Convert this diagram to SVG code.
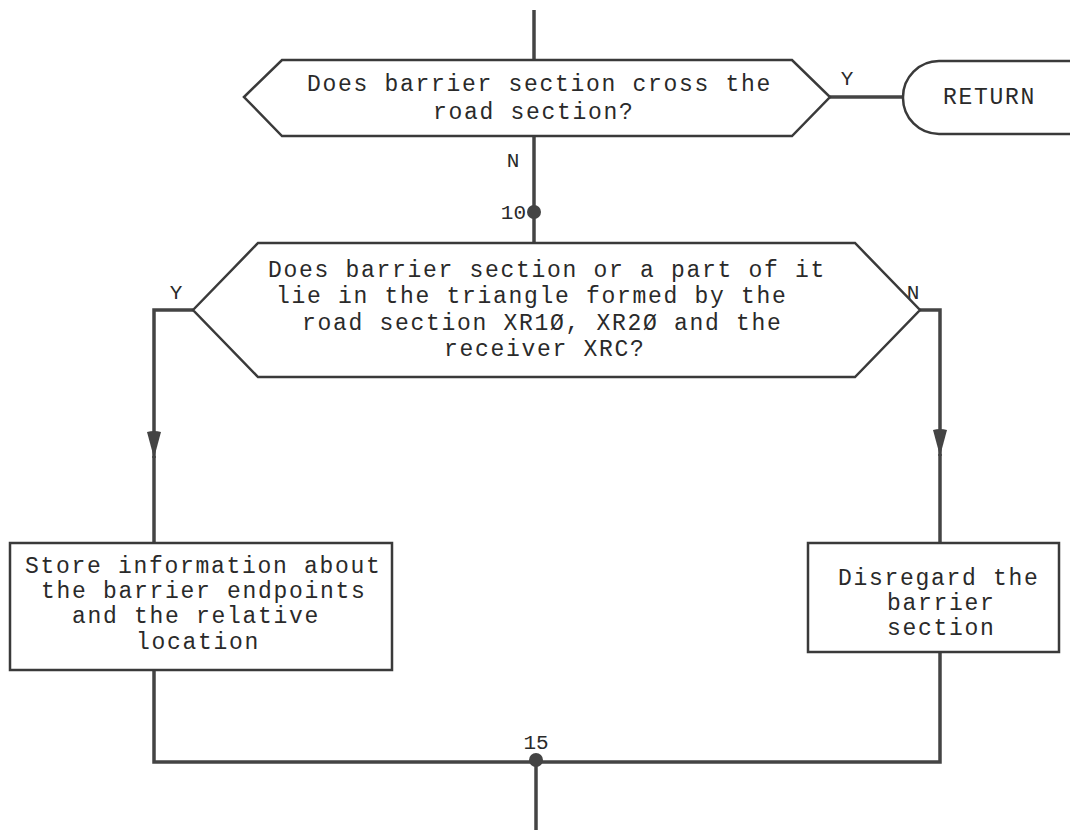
<svg xmlns="http://www.w3.org/2000/svg" width="1070" height="836" viewBox="0 0 1070 836">
<style>
.shape{fill:#fff;stroke:#3a3a3a;stroke-width:2.5}
.t{font-family:"Liberation Mono","Courier New",monospace;font-size:23px;letter-spacing:1.7px;fill:#2a2a2a}
.lbl{font-family:"Liberation Mono","Courier New",monospace;font-size:21px;fill:#2a2a2a}
.c{fill:none;stroke:#444;stroke-width:3.5}
.dot{fill:#444}
</style>
<defs>
<marker id="arr" markerWidth="30" markerHeight="16" refX="28" refY="8" orient="auto" markerUnits="userSpaceOnUse" viewBox="0 0 30 16">
<path d="M2,1 Q0,8 2,15 L28,8 Z" fill="#444"/>
</marker>
</defs>
<rect width="1070" height="836" fill="#fff"/>
<g id="connectors">
<path class="c" d="M534,10 V60"/>
<path class="c" d="M534,136 V243"/>
<path class="c" d="M830,97 H903"/>
<path class="c" d="M193,310 H154 V458" marker-end="url(#arr)"/>
<path class="c" d="M154,456 V543"/>
<path class="c" d="M920,310 H940 V456" marker-end="url(#arr)"/>
<path class="c" d="M940,454 V543"/>
<path class="c" d="M154,670 V762 H940 V652"/>
<path class="c" d="M536,762 V830"/>
<circle class="dot" cx="534" cy="212" r="7"/>
<circle class="dot" cx="536" cy="760" r="7"/>
<text class="lbl" x="513" y="167" text-anchor="middle">N</text>
<text class="lbl" x="526" y="219" text-anchor="end">10</text>
<text class="lbl" x="847" y="85" text-anchor="middle">Y</text>
<text class="lbl" x="176" y="299" text-anchor="middle">Y</text>
<text class="lbl" x="913" y="299" text-anchor="middle">N</text>
<text class="lbl" x="536" y="749" text-anchor="middle">15</text>
</g>
<g id="decision1">
<polygon class="shape" points="244,97 282,60 792,60 830,97 792,136 282,136"/>
<text class="t" x="307" y="91">Does barrier section cross the</text>
<text class="t" x="433" y="119">road section?</text>
</g>
<g id="return">
<rect class="shape" x="903" y="61" width="200" height="73" rx="36" ry="36"/>
<text class="t" x="943" y="104">RETURN</text>
</g>
<g id="decision2">
<polygon class="shape" points="193,310 258,243 855,243 920,310 855,377 258,377"/>
<text class="t" x="268" y="277">Does barrier section or a part of it</text>
<text class="t" x="276" y="303">lie in the triangle formed by the</text>
<text class="t" x="302" y="330">road section XR1Ø, XR2Ø and the</text>
<text class="t" x="444" y="356">receiver XRC?</text>
</g>
<g id="store">
<rect class="shape" x="10" y="543" width="382" height="127"/>
<text class="t" x="25" y="573">Store information about</text>
<text class="t" x="41" y="598">the barrier endpoints</text>
<text class="t" x="72" y="623">and the relative</text>
<text class="t" x="136" y="649">location</text>
</g>
<g id="disregard">
<rect class="shape" x="808" y="543" width="251" height="109"/>
<text class="t" x="838" y="585">Disregard the</text>
<text class="t" x="887" y="610">barrier</text>
<text class="t" x="887" y="635">section</text>
</g>
</svg>
